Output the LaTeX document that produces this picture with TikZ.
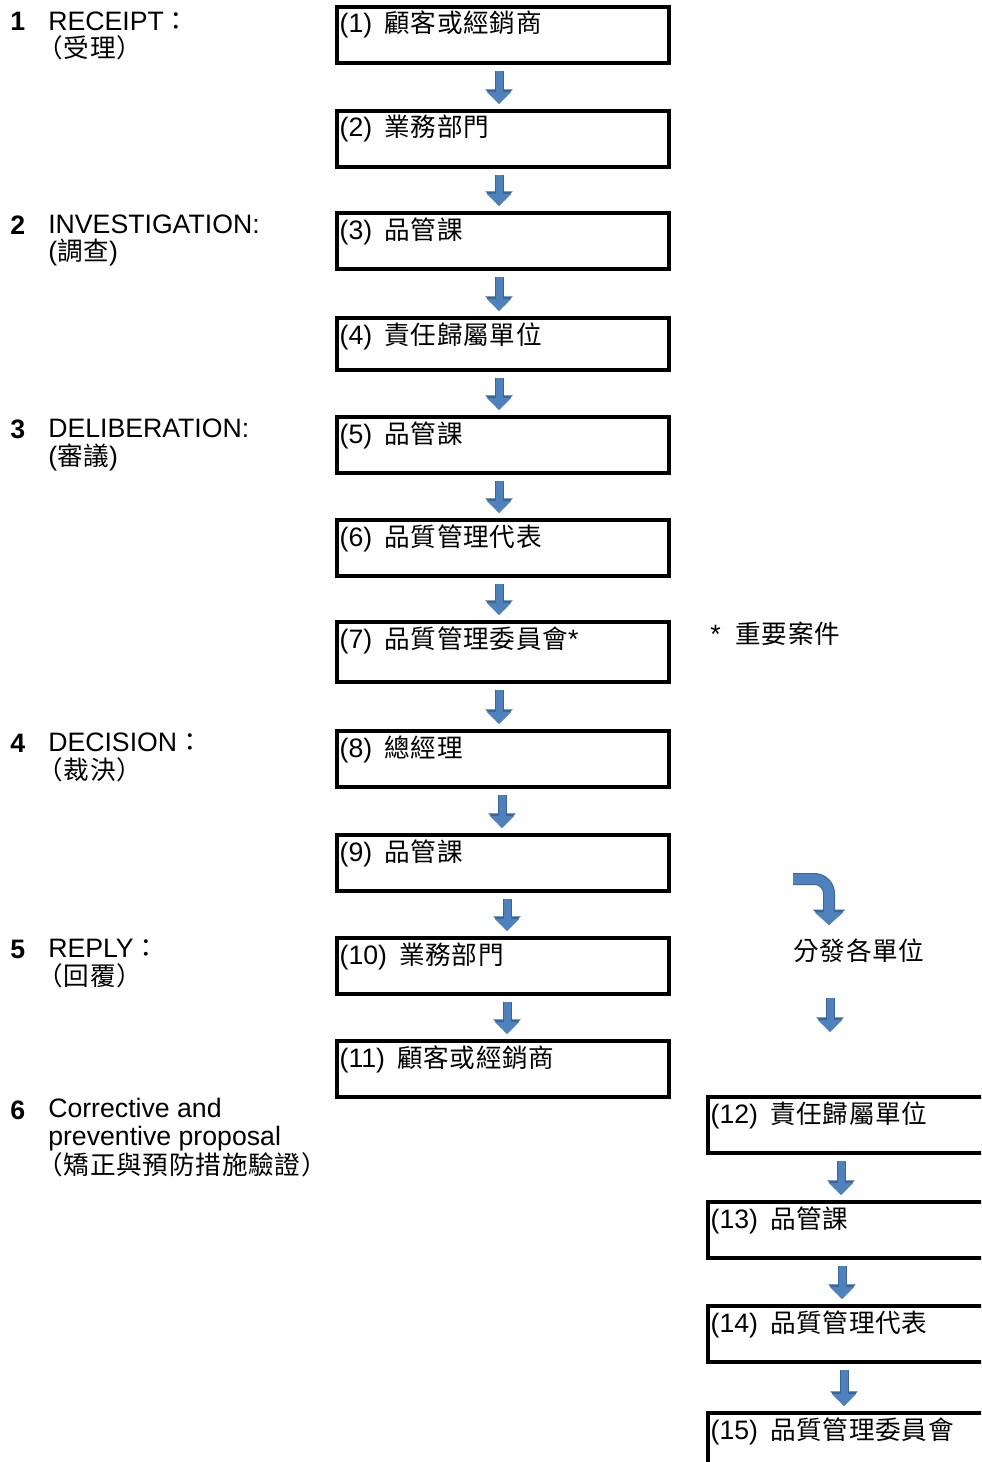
\documentclass[tikz,border=0pt]{standalone}
\usepackage{fontspec}
\setmainfont{Liberation Sans}
\newfontfamily\cjk[Scale=0.96, LetterSpace=3]{Noto Sans CJK TC}
\usepackage{tikz}
\usetikzlibrary{arrows.meta}
\definecolor{arrowblue}{HTML}{4F81BD}
\definecolor{arrowedge}{HTML}{3A6599}
\newcommand{\lparen}{\hspace{-0.42em}}

\begin{document}
\begin{tikzpicture}[x=0.75pt, y=-0.75pt, font=\fontsize{20pt}{20.5pt}\selectfont,
	box/.style={draw, line width=3pt, anchor=north west, inner xsep=2pt, inner ysep=0pt,
		text width=245pt, align=left, text height=19.5pt, text depth=22.5pt},
	sidebox/.style={box, text width=221pt},
	secnum/.style={anchor=base west, inner sep=0pt, font=\fontsize{20pt}{20.5pt}\selectfont\bfseries},
	sectext/.style={anchor=base west, inner sep=0pt, align=left},
	flow/.style={draw=arrowblue, line width=5.25pt, -{Triangle[width=17.5pt,length=9pt]},
		preaction={draw=arrowedge, line width=6.75pt, -{Triangle[width=20pt,length=11pt]}}},
	turn/.style={draw=arrowblue, line width=7.5pt, rounded corners=11pt, -{Triangle[width=21pt,length=9.5pt]},
		preaction={draw=arrowedge, line width=9pt, -{Triangle[width=23.5pt,length=11.5pt]}}},
	link/.style={flow, shorten <=4.5pt, shorten >=3.75pt}]
		\path [use as bounding box] (0, 0) rectangle (981, 1462);
		\clip (0, 0) rectangle (981, 1462);
		\node [secnum] (n1) at (10, 31) {1};
		\node [sectext] (s1) at (48, 58) {RECEIPT{\cjk ：}\\{\cjk \lparen（受理）}};
		\node [secnum] (n2) at (10, 234) {2};
		\node [sectext] (s2) at (48, 261) {INVESTIGATION:\\({\cjk 調查})};
		\node [secnum] (n3) at (10, 438) {3};
		\node [sectext] (s3) at (48, 465) {DELIBERATION:\\({\cjk 審議})};
		\node [secnum] (n4) at (10, 752) {4};
		\node [sectext] (s4) at (48, 779) {DECISION{\cjk ：}\\{\cjk \lparen（裁決）}};
		\node [secnum] (n5) at (10, 958) {5};
		\node [sectext] (s5) at (48, 985) {REPLY{\cjk ：}\\{\cjk \lparen（回覆）}};
		\node [secnum] (n6) at (10, 1119) {6};
		\node [sectext] (s6) at (48, 1174) {Corrective and\\preventive proposal\\{\cjk \lparen（矯正與預防措施驗證）}};
		\node [box] (b1) at (335, 5) {(1)\hspace{0.45em}{\cjk 顧客或經銷商}};
		\node [box] (b2) at (335, 109) {(2)\hspace{0.45em}{\cjk 業務部門}};
		\node [box] (b3) at (335, 211) {(3)\hspace{0.45em}{\cjk 品管課}};
		\node [box, text depth=19.5pt] (b4) at (335, 316) {(4)\hspace{0.45em}{\cjk 責任歸屬單位}};
		\node [box] (b5) at (335, 415) {(5)\hspace{0.45em}{\cjk 品管課}};
		\node [box] (b6) at (335, 518) {(6)\hspace{0.45em}{\cjk 品質管理代表}};
		\node [box, text depth=25.5pt] (b7) at (335, 620) {(7)\hspace{0.45em}{\cjk 品質管理委員會}*};
		\node [box] (b8) at (335, 729) {(8)\hspace{0.45em}{\cjk 總經理}};
		\node [box] (b9) at (335, 833) {(9)\hspace{0.45em}{\cjk 品管課}};
		\node [box] (b10) at (335, 936) {(10)\hspace{0.45em}{\cjk 業務部門}};
		\node [box] (b11) at (335, 1039) {(11)\hspace{0.45em}{\cjk 顧客或經銷商}};
		\node [sidebox] (b12) at (706, 1095) {(12)\hspace{0.45em}{\cjk 責任歸屬單位}};
		\node [sidebox] (b13) at (706, 1200) {(13)\hspace{0.45em}{\cjk 品管課}};
		\node [sidebox] (b14) at (706, 1304) {(14)\hspace{0.45em}{\cjk 品質管理代表}};
		\node [sidebox] (b15) at (706, 1411) {(15)\hspace{0.45em}{\cjk 品質管理委員會}};
		\node [sectext] (vip) at (710, 643) {*\hspace{0.55em}{\cjk 重要案件}};
		\node [sectext] (dist) at (793, 960) {{\cjk 分發各單位}};
		\draw [link] ([xshift=-3pt]b1.south) -- ([xshift=-3pt]b2.north);
		\draw [link] ([xshift=-3pt]b2.south) -- ([xshift=-3pt]b3.north);
		\draw [link] ([xshift=-3pt]b3.south) -- ([xshift=-3pt]b4.north);
		\draw [link] ([xshift=-3pt]b4.south) -- ([xshift=-3pt]b5.north);
		\draw [link] ([xshift=-3pt]b5.south) -- ([xshift=-3pt]b6.north);
		\draw [link] ([xshift=-3pt]b6.south) -- ([xshift=-3pt]b7.north);
		\draw [link] ([xshift=-3pt]b7.south) -- ([xshift=-3pt]b8.north);
		\draw [link] ([xshift=-0.75pt]b8.south) -- ([xshift=-0.75pt]b9.north);
		\draw [link] ([xshift=3pt]b9.south) -- ([xshift=3pt]b10.north);
		\draw [link] ([xshift=3pt]b10.south) -- ([xshift=3pt]b11.north);
		\draw [link] ([xshift=-12.75pt]b12.south) -- ([xshift=-12.75pt]b13.north);
		\draw [link] ([xshift=-12pt]b13.south) -- ([xshift=-12pt]b14.north);
		\draw [link] ([xshift=-10.5pt]b14.south) -- ([xshift=-10.5pt]b15.north);
		\coordinate (turnstart) at (793, 879);
		\coordinate (turnend) at (829, 925);
		\draw [turn] (turnstart) -| (turnend);
		\coordinate (disttop) at (830, 998);
		\coordinate (distbot) at (830, 1032);
		\draw [flow] (disttop) -- (distbot);
	\end{tikzpicture}
\end{document}
